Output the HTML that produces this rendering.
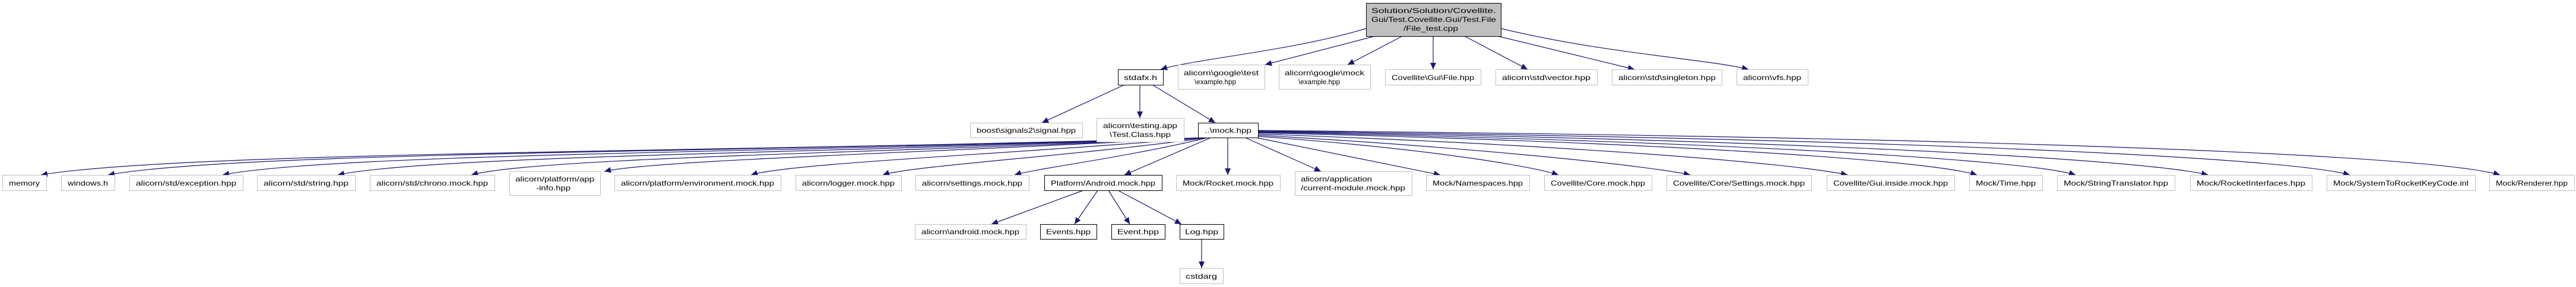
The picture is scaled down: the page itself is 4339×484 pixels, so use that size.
<!DOCTYPE html>
<html><head><meta charset="utf-8"><style>html,body{margin:0;padding:0;background:#fff}svg{display:block}</style></head>
<body>
<svg width="4339" height="484" viewBox="0 0 4339 484" xmlns="http://www.w3.org/2000/svg" font-family="Liberation Sans, sans-serif" font-size="12">
<defs>
<marker id="a" markerUnits="userSpaceOnUse" markerWidth="12" markerHeight="10" refX="11" refY="5" orient="auto">
<path d="M0,0 L11,5 L0,10 Z" fill="#191970"/>
</marker>
</defs>
<g fill="none" stroke="#191970" stroke-width="1.2" marker-end="url(#a)">
<!-- root -->
<path d="M2301,48 C2180,85 2010,100 1955,117"/>
<path d="M2316,61 L2131,109"/>
<path d="M2362,61 L2270,109"/>
<path d="M2414,61 L2414,117"/>
<path d="M2467,61 L2573,117"/>
<path d="M2523,61 L2753,117"/>
<path d="M2528,48 C2700,90 2880,100 2945,117"/>
<!-- stdafx -->
<path d="M1894,143 L1755,207"/>
<path d="M1920,143 L1920,199"/>
<path d="M1941,143 L2047,207"/>
<!-- mock.hpp left -->
<path d="M2035,232 C1249,257 305,255 69,295"/>
<path d="M2035,232 C1293,257 400,255 182,295"/>
<path d="M2035,232 C1370,257 560,258 375,295"/>
<path d="M2035,232 C1450,257 720,262 569,295"/>
<path d="M2035,232 C1540,257 900,265 794,295"/>
<path d="M2035,232 C1580,257 1100,270 1018,289"/>
<path d="M2035,232 C1700,260 1330,275 1265,295"/>
<path d="M2035,232 C1820,262 1530,280 1487,295"/>
<path d="M2035,232 C1900,265 1740,285 1709,295"/>
<path d="M2040,232 L1894,295"/>
<path d="M2068,232 L2068,295"/>
<path d="M2097,232 L2225,289"/>
<path d="M2115,232 L2426,295"/>
<!-- mock.hpp right -->
<path d="M2119,230 C2400,250 2580,280 2625,295"/>
<path d="M2119,228 C2500,250 2780,280 2847,295"/>
<path d="M2119,226 C2650,245 3020,275 3112,295"/>
<path d="M2119,224 C2800,240 3250,270 3330,295"/>
<path d="M2119,223 C2900,238 3420,270 3496,295"/>
<path d="M2119,222 C3050,236 3620,270 3719,295"/>
<path d="M2119,221 C3200,234 3850,265 3958,295"/>
<path d="M2119,220 C3400,232 4100,262 4211,295"/>
<!-- Android -->
<path d="M1825,321 L1670,378"/>
<path d="M1849,321 L1810,378"/>
<path d="M1867,321 L1903,378"/>
<path d="M1883,321 L1990,378"/>
<path d="M2024,403 L2024,452"/>
</g>
<g stroke-width="1">
<rect x="2301.5" y="5.5" width="227" height="56" fill="#bfbfbf" stroke="#000"/>
<text x="2310" y="22" textLength="210" lengthAdjust="spacingAndGlyphs">Solution/Solution/Covellite.</text>
<text x="2310" y="37" textLength="210" lengthAdjust="spacingAndGlyphs">Gui/Test.Covellite.Gui/Test.File</text>
<text x="2364" y="52" textLength="92" lengthAdjust="spacingAndGlyphs">/File_test.cpp</text>

<g fill="#fff" stroke="#000">
<rect x="1883.5" y="117.5" width="76" height="26"/>
<rect x="2018.5" y="207.5" width="101" height="25"/>
<rect x="1759.5" y="295.5" width="198" height="26"/>
<rect x="1752.5" y="378.5" width="95" height="25"/>
<rect x="1872.5" y="378.5" width="90" height="25"/>
<rect x="1987.5" y="378.5" width="74" height="25"/>
</g>
<g fill="#fff" stroke="#bfbfbf">
<rect x="1984.5" y="109.5" width="146" height="41"/>
<rect x="2154.5" y="109.5" width="154" height="41"/>
<rect x="2333.5" y="117.5" width="161" height="26"/>
<rect x="2519.5" y="117.5" width="171" height="26"/>
<rect x="2715.5" y="117.5" width="185" height="26"/>
<rect x="2925.5" y="117.5" width="120" height="26"/>
<rect x="1634.5" y="207.5" width="189" height="25"/>
<rect x="1847.5" y="199.5" width="147" height="40"/>
<rect x="4.5" y="295.5" width="74" height="26"/>
<rect x="103.5" y="295.5" width="90" height="26"/>
<rect x="218.5" y="295.5" width="191" height="26"/>
<rect x="433.5" y="295.5" width="165" height="26"/>
<rect x="623.5" y="295.5" width="210" height="26"/>
<rect x="858.5" y="289.5" width="153" height="40"/>
<rect x="1035.5" y="295.5" width="280" height="26"/>
<rect x="1340.5" y="295.5" width="178" height="26"/>
<rect x="1542.5" y="295.5" width="191" height="26"/>
<rect x="1981.5" y="295.5" width="175" height="26"/>
<rect x="2181.5" y="289.5" width="197" height="40"/>
<rect x="2402.5" y="295.5" width="174" height="26"/>
<rect x="2601.5" y="295.5" width="181" height="26"/>
<rect x="2807.5" y="295.5" width="244" height="26"/>
<rect x="3077.5" y="295.5" width="215" height="26"/>
<rect x="3317.5" y="295.5" width="123" height="26"/>
<rect x="3465.5" y="295.5" width="198" height="26"/>
<rect x="3689.5" y="295.5" width="205" height="26"/>
<rect x="3919.5" y="295.5" width="250" height="26"/>
<rect x="4193.5" y="295.5" width="143" height="26"/>
<rect x="1541.5" y="378.5" width="187" height="25"/>
<rect x="1987.5" y="452.5" width="73" height="26"/>
</g>
</g>
<g fill="#000" text-anchor="start">
<text x="1893" y="135" textLength="56" lengthAdjust="spacingAndGlyphs">stdafx.h</text>
<text x="1994" y="127" textLength="126" lengthAdjust="spacingAndGlyphs">alicorn\google\test</text>
<text x="2012" y="142" textLength="70" lengthAdjust="spacingAndGlyphs">\example.hpp</text>
<text x="2164" y="127" textLength="134" lengthAdjust="spacingAndGlyphs">alicorn\google\mock</text>
<text x="2187" y="142" textLength="70" lengthAdjust="spacingAndGlyphs">\example.hpp</text>
<text x="2344" y="135" textLength="139" lengthAdjust="spacingAndGlyphs">Covellite\Gui\File.hpp</text>
<text x="2530" y="135" textLength="149" lengthAdjust="spacingAndGlyphs">alicorn\std\vector.hpp</text>
<text x="2726" y="135" textLength="164" lengthAdjust="spacingAndGlyphs">alicorn\std\singleton.hpp</text>
<text x="2936" y="135" textLength="98" lengthAdjust="spacingAndGlyphs">alicorn\vfs.hpp</text>
<text x="1645" y="224" textLength="167" lengthAdjust="spacingAndGlyphs">boost\signals2\signal.hpp</text>
<text x="1858" y="216" textLength="125" lengthAdjust="spacingAndGlyphs">alicorn\testing.app</text>
<text x="1869" y="231" textLength="103" lengthAdjust="spacingAndGlyphs">\Test.Class.hpp</text>
<text x="2029" y="224" textLength="79" lengthAdjust="spacingAndGlyphs">..\mock.hpp</text>
<text x="15" y="313" textLength="52" lengthAdjust="spacingAndGlyphs">memory</text>
<text x="114" y="313" textLength="68" lengthAdjust="spacingAndGlyphs">windows.h</text>
<text x="229" y="313" textLength="169" lengthAdjust="spacingAndGlyphs">alicorn/std/exception.hpp</text>
<text x="444" y="313" textLength="143" lengthAdjust="spacingAndGlyphs">alicorn/std/string.hpp</text>
<text x="634" y="313" textLength="188" lengthAdjust="spacingAndGlyphs">alicorn/std/chrono.mock.hpp</text>
<text x="868" y="306" textLength="133" lengthAdjust="spacingAndGlyphs">alicorn/platform/app</text>
<text x="903" y="321" textLength="58" lengthAdjust="spacingAndGlyphs">-info.hpp</text>
<text x="1046" y="313" textLength="258" lengthAdjust="spacingAndGlyphs">alicorn/platform/environment.mock.hpp</text>
<text x="1351" y="313" textLength="156" lengthAdjust="spacingAndGlyphs">alicorn/logger.mock.hpp</text>
<text x="1553" y="313" textLength="169" lengthAdjust="spacingAndGlyphs">alicorn/settings.mock.hpp</text>
<text x="1770" y="313" textLength="176" lengthAdjust="spacingAndGlyphs">Platform/Android.mock.hpp</text>
<text x="1992" y="313" textLength="153" lengthAdjust="spacingAndGlyphs">Mock/Rocket.mock.hpp</text>
<text x="2191" y="306" textLength="120" lengthAdjust="spacingAndGlyphs">alicorn/application</text>
<text x="2191" y="321" textLength="176" lengthAdjust="spacingAndGlyphs">/current-module.mock.hpp</text>
<text x="2413" y="313" textLength="152" lengthAdjust="spacingAndGlyphs">Mock/Namespaces.hpp</text>
<text x="2612" y="313" textLength="159" lengthAdjust="spacingAndGlyphs">Covellite/Core.mock.hpp</text>
<text x="2818" y="313" textLength="222" lengthAdjust="spacingAndGlyphs">Covellite/Core/Settings.mock.hpp</text>
<text x="3088" y="313" textLength="193" lengthAdjust="spacingAndGlyphs">Covellite/Gui.inside.mock.hpp</text>
<text x="3328" y="313" textLength="101" lengthAdjust="spacingAndGlyphs">Mock/Time.hpp</text>
<text x="3476" y="313" textLength="176" lengthAdjust="spacingAndGlyphs">Mock/StringTranslator.hpp</text>
<text x="3700" y="313" textLength="183" lengthAdjust="spacingAndGlyphs">Mock/RocketInterfaces.hpp</text>
<text x="3930" y="313" textLength="228" lengthAdjust="spacingAndGlyphs">Mock/SystemToRocketKeyCode.inl</text>
<text x="4204" y="313" textLength="121" lengthAdjust="spacingAndGlyphs">Mock/Renderer.hpp</text>
<text x="1552" y="395" textLength="165" lengthAdjust="spacingAndGlyphs">alicorn\android.mock.hpp</text>
<text x="1762" y="395" textLength="75" lengthAdjust="spacingAndGlyphs">Events.hpp</text>
<text x="1882" y="395" textLength="70" lengthAdjust="spacingAndGlyphs">Event.hpp</text>
<text x="1996" y="395" textLength="56" lengthAdjust="spacingAndGlyphs">Log.hpp</text>
<text x="1997" y="470" textLength="53" lengthAdjust="spacingAndGlyphs">cstdarg</text>
</g>
</svg>
</body></html>
